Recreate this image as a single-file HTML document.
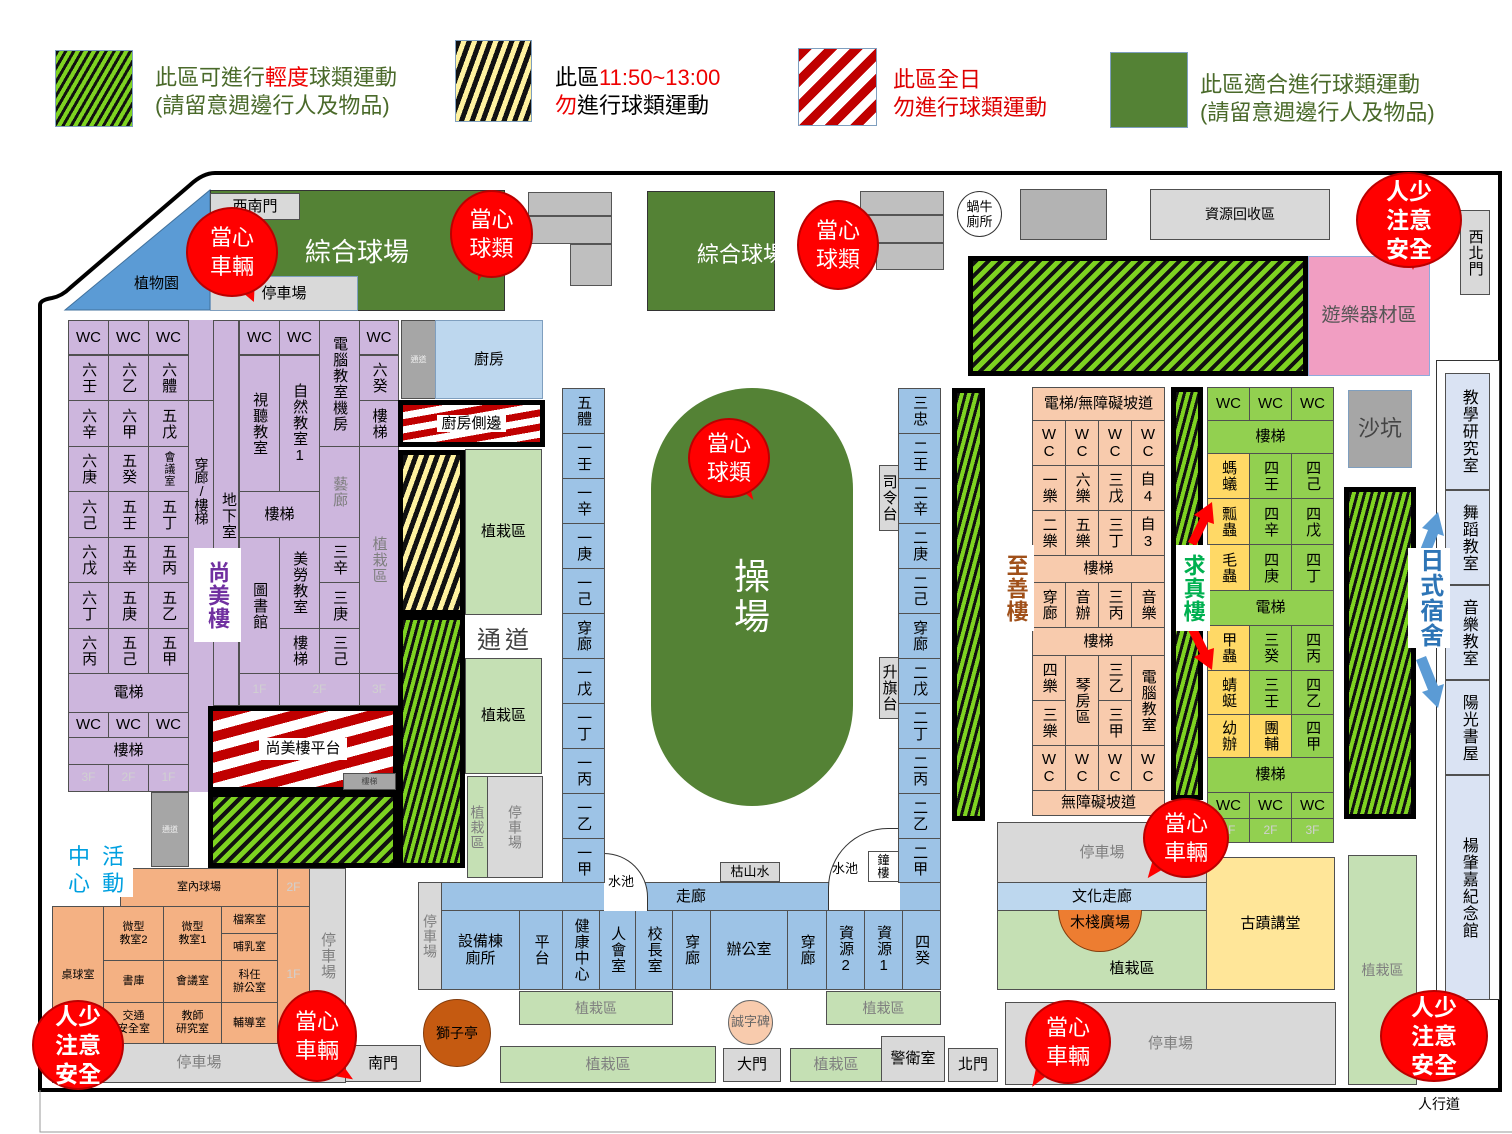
<!DOCTYPE html>
<html><head><meta charset="utf-8">
<style>
*{margin:0;padding:0}
body{width:1512px;height:1134px;position:relative;background:#fff;overflow:hidden;font-family:"Liberation Sans","Noto Sans CJK TC","Noto Sans CJK SC",sans-serif;color:#000}
.b{position:absolute;box-sizing:border-box;border:1px solid #505050;display:flex;align-items:center;justify-content:center;text-align:center;font-size:15px;line-height:1.15}
.v{writing-mode:vertical-rl;text-orientation:upright;letter-spacing:1px}
.p{background:#cdb6dd}
.bl{background:#9dc3e6}
.lb{background:#bdd7ee}
.g{background:#d9d9d9}
.dg{background:#bfbfbf}
.lg{background:#c5e0b4}
.or{background:#f8cbad}
.oo{background:#f4b183}
.gr{background:#92d050}
.ye{background:#ffd966}
.gs{background:repeating-linear-gradient(135deg,#111 0 4px,#7ed321 4px 9px);border:5px solid #000}
.gv{background:repeating-linear-gradient(105deg,#111 0 3px,#7ed321 3px 7px);border:5px solid #000}
.ys{background:repeating-linear-gradient(110deg,#111 0 5px,#fff2a0 5px 10px);border:5px solid #000}
.rs{background:repeating-linear-gradient(165deg,#c00000 0 10px,#fff 10px 20px);border:5px solid #000}
.t{position:absolute;white-space:nowrap}
.bub{position:absolute;border-radius:50%;background:#ff0000;border:2px solid #b00;color:#fff;display:flex;align-items:center;justify-content:center;text-align:center;font-size:22px;line-height:29px;box-sizing:border-box;z-index:5}
.tail{position:absolute;width:0;height:0;z-index:4}
.w{background:#fff;color:#000;padding:0 4px}
.gy{color:#7f7f7f}
.fl{color:#d0d0d0;font-size:12px}
</style></head><body>

<!-- legend -->
<div class="b" style="left:55px;top:50px;width:78px;height:77px;border:1px solid #7f9fbf;background:repeating-linear-gradient(120deg,#111 0 3px,#7ed321 3px 7px)"></div>
<div class="t" style="left:155px;top:64px;font-size:22px;line-height:28px;color:#4a6a2a">此區可進行<span style="color:#e00">輕度</span>球類運動<br>(請留意週邊行人及物品)</div>
<div class="b" style="left:455px;top:40px;width:77px;height:82px;border:1px solid #7f9fbf;background:repeating-linear-gradient(110deg,#111 0 5px,#fff2a0 5px 10px)"></div>
<div class="t" style="left:555px;top:64px;font-size:22px;line-height:28px">此區<span style="color:#e00">11:50~13:00</span><br><span style="color:#e00">勿</span>進行球類運動</div>
<div class="b" style="left:798px;top:48px;width:79px;height:78px;border:1px solid #7f9fbf;background:repeating-linear-gradient(135deg,#c00000 0 9px,#fff 9px 18px)"></div>
<div class="t" style="left:893px;top:66px;font-size:22px;line-height:28px;color:#d00">此區全日<br>勿進行球類運動</div>
<div class="b" style="left:1110px;top:52px;width:78px;height:76px;border:1px solid #7f9fbf;background:#548235"></div>
<div class="t" style="left:1200px;top:71px;font-size:22px;line-height:28px;color:#4a6a2a">此區適合進行球類運動<br>(請留意週邊行人及物品)</div>

<!-- boundary -->
<svg style="position:absolute;left:0;top:0" width="1512" height="1134">
<path d="M40 1090 L40 305 Q40 300 52 298 Q62 296 70 288 L190 185 Q203 173 215 173 L1500 173 L1500 1090 Z" fill="none" stroke="#000" stroke-width="4"/>
<path d="M40 1090 L40 1132 L1512 1132" fill="none" stroke="#999" stroke-width="1"/>
<polygon points="65,310 210,190 210,310" fill="#5b9bd5" stroke="#41719c"/>
</svg>

<!-- top left -->
<div class="t" style="left:134px;top:272px;font-size:15px">植物園</div>
<div class="b" style="left:210px;top:190px;width:295px;height:121px;background:#548235;border-color:#333"></div>
<div class="t" style="left:305px;top:232px;font-size:26px;color:#fff">綜合球場</div>
<div class="b g" style="left:210px;top:193px;width:90px;height:27px">西南門</div>
<div class="b g" style="left:210px;top:276px;width:148px;height:35px;border-color:#7f9fbf">停車場</div>
<div class="b dg" style="left:528px;top:192px;width:84px;height:24px;border-color:#555"></div>
<div class="b dg" style="left:528px;top:216px;width:84px;height:28px;border-color:#555"></div>
<div class="b dg" style="left:570px;top:244px;width:42px;height:42px;border-color:#555"></div>

<div class="b" style="left:647px;top:191px;width:128px;height:120px;background:#548235;border-color:#333"></div>
<div class="t" style="left:697px;top:237px;font-size:22px;color:#fff;z-index:6">綜合球場</div>
<div class="b dg" style="left:860px;top:191px;width:84px;height:24px;border-color:#555"></div>
<div class="b dg" style="left:860px;top:215px;width:84px;height:28px;border-color:#555"></div>
<div class="b dg" style="left:876px;top:243px;width:68px;height:27px;border-color:#555"></div>
<div class="b" style="left:957px;top:191px;width:45px;height:46px;border-radius:50%;background:#fff;border-color:#333;font-size:13px;line-height:15px">蝸牛<br>廁所</div>
<div class="b" style="left:1020px;top:189px;width:87px;height:51px;background:#b3b3b3"></div>
<div class="b g" style="left:1150px;top:189px;width:180px;height:51px;font-size:14px">資源回收區</div>
<div class="b g v" style="left:1460px;top:210px;width:30px;height:85px;font-size:15px">西北門</div>
<div class="b gs" style="left:968px;top:256px;width:340px;height:120px"></div>
<div class="b" style="left:1308px;top:256px;width:122px;height:120px;background:#f19ec2;border-color:#8faadc;color:#555;font-size:19px">遊樂器材區</div>

<!-- right column -->
<div class="b" style="left:1436px;top:360px;width:64px;height:640px;background:#fff;border-color:#333"></div>
<div class="b v" style="left:1445px;top:373px;width:45px;height:117px;background:#dae3f3;font-size:16px">教學研究室</div>
<div class="b v" style="left:1445px;top:490px;width:45px;height:95px;background:#dae3f3;font-size:16px">舞蹈教室</div>
<div class="b v" style="left:1445px;top:585px;width:45px;height:95px;background:#dae3f3;font-size:16px">音樂教室</div>
<div class="b v" style="left:1445px;top:680px;width:45px;height:95px;background:#dae3f3;font-size:16px">陽光書屋</div>
<div class="b v" style="left:1445px;top:775px;width:45px;height:225px;background:#dae3f3;font-size:16px">楊肇嘉紀念館</div>
<div class="b" style="left:1348px;top:390px;width:64px;height:78px;background:#a6a6a6;border-color:#7f9fbf;color:#444;font-size:22px">沙坑</div>
<div class="b gv" style="left:1344px;top:487px;width:72px;height:332px"></div>
<svg style="position:absolute;left:1412px;top:510px" width="40" height="200"><path d="M4 50 L16 20 L10 18 L26 2 L32 26 L26 24 L14 54 Z" fill="#5b9bd5"/><path d="M4 150 L16 180 L10 182 L26 198 L32 174 L26 176 L14 146 Z" fill="#5b9bd5"/></svg>
<div class="b v" style="left:1408px;top:548px;width:42px;height:100px;background:#fff;border:none;color:#2e75b6;font-size:24px;font-weight:bold">日式宿舍</div>

<!-- 尚美樓 -->
<div class="b p" style="left:68px;top:320px;width:331px;height:472px;border:none"></div>
<div class="b p" style="left:68px;top:320px;width:41px;height:35px">WC</div>
<div class="b p" style="left:108px;top:320px;width:41px;height:35px">WC</div>
<div class="b p" style="left:148px;top:320px;width:41px;height:35px">WC</div>
<div class="b p v" style="left:68px;top:355px;width:41px;height:46px">六壬</div>
<div class="b p v" style="left:108px;top:355px;width:41px;height:46px">六乙</div>
<div class="b p v" style="left:148px;top:355px;width:41px;height:46px">六體</div>
<div class="b p v" style="left:68px;top:400px;width:41px;height:47px">六辛</div>
<div class="b p v" style="left:108px;top:400px;width:41px;height:47px">六甲</div>
<div class="b p v" style="left:148px;top:400px;width:41px;height:47px">五戊</div>
<div class="b p v" style="left:68px;top:446px;width:41px;height:46px">六庚</div>
<div class="b p v" style="left:108px;top:446px;width:41px;height:46px">五癸</div>
<div class="b p v" style="left:148px;top:446px;width:41px;height:46px;font-size:11px">會議室</div>
<div class="b p v" style="left:68px;top:491px;width:41px;height:47px">六己</div>
<div class="b p v" style="left:108px;top:491px;width:41px;height:47px">五壬</div>
<div class="b p v" style="left:148px;top:491px;width:41px;height:47px">五丁</div>
<div class="b p v" style="left:68px;top:537px;width:41px;height:46px">六戊</div>
<div class="b p v" style="left:108px;top:537px;width:41px;height:46px">五辛</div>
<div class="b p v" style="left:148px;top:537px;width:41px;height:46px">五丙</div>
<div class="b p v" style="left:68px;top:582px;width:41px;height:47px">六丁</div>
<div class="b p v" style="left:108px;top:582px;width:41px;height:47px">五庚</div>
<div class="b p v" style="left:148px;top:582px;width:41px;height:47px">五乙</div>
<div class="b p v" style="left:68px;top:628px;width:41px;height:46px">六丙</div>
<div class="b p v" style="left:108px;top:628px;width:41px;height:46px">五己</div>
<div class="b p v" style="left:148px;top:628px;width:41px;height:46px">五甲</div>
<div class="b p" style="left:68px;top:673px;width:121px;height:40px">電梯</div>
<div class="b p" style="left:68px;top:712px;width:41px;height:26px">WC</div>
<div class="b p" style="left:108px;top:712px;width:41px;height:26px">WC</div>
<div class="b p" style="left:148px;top:712px;width:41px;height:26px">WC</div>
<div class="b p" style="left:68px;top:737px;width:121px;height:28px">樓梯</div>
<div class="b p fl" style="left:68px;top:764px;width:41px;height:28px">3F</div>
<div class="b p fl" style="left:108px;top:764px;width:41px;height:28px">2F</div>
<div class="b p fl" style="left:148px;top:764px;width:41px;height:28px">1F</div>
<div class="b p v" style="left:189px;top:400px;width:25px;height:180px;border:none;border-top:1px solid #505050;font-size:14px;letter-spacing:-1px">穿廊/樓梯</div>
<div class="b p" style="left:213px;top:320px;width:26px;height:386px"></div>
<div class="t v" style="left:218px;top:492px;font-size:15px;writing-mode:vertical-rl;text-orientation:upright">地下室</div>
<div class="b p" style="left:239px;top:320px;width:41px;height:35px">WC</div>
<div class="b p" style="left:279px;top:320px;width:41px;height:35px">WC</div>
<div class="b p v" style="left:319px;top:320px;width:41px;height:127px">電腦教室機房</div>
<div class="b p" style="left:359px;top:320px;width:40px;height:35px">WC</div>
<div class="b p v" style="left:359px;top:355px;width:40px;height:46px">六癸</div>
<div class="b p v" style="left:359px;top:400px;width:40px;height:47px">樓梯</div>
<div class="b p v" style="left:239px;top:355px;width:41px;height:137px">視聽教室</div>
<div class="b p v" style="left:279px;top:355px;width:41px;height:137px">自然教室1</div>
<div class="b p" style="left:239px;top:491px;width:81px;height:47px">樓梯</div>
<div class="b p v gy" style="left:319px;top:446px;width:41px;height:92px">藝廊</div>
<div class="b p v gy" style="left:359px;top:446px;width:40px;height:228px">植栽區</div>
<div class="b p v" style="left:239px;top:537px;width:41px;height:137px">圖書館</div>
<div class="b p v" style="left:279px;top:537px;width:41px;height:92px">美勞教室</div>
<div class="b p v" style="left:279px;top:628px;width:41px;height:46px">樓梯</div>
<div class="b p v" style="left:319px;top:537px;width:41px;height:46px">三辛</div>
<div class="b p v" style="left:319px;top:582px;width:41px;height:47px">三庚</div>
<div class="b p v" style="left:319px;top:628px;width:41px;height:46px">三己</div>
<div class="b p fl" style="left:239px;top:673px;width:41px;height:33px">1F</div>
<div class="b p fl" style="left:279px;top:673px;width:81px;height:33px">2F</div>
<div class="b p fl" style="left:359px;top:673px;width:40px;height:33px">3F</div>
<div class="b v" style="left:194px;top:548px;width:47px;height:94px;background:#fff;border:none;color:#7030a0;font-size:22px;font-weight:bold">尚美樓</div>

<div class="b" style="left:401px;top:320px;width:35px;height:79px;background:#a6a6a6;font-size:8px;color:#eee">通道</div>
<div class="b" style="left:435px;top:320px;width:108px;height:79px;background:#bdd7ee;border-color:#7f9fbf">廚房</div>
<div class="b rs" style="left:398px;top:400px;width:147px;height:47px;background:repeating-linear-gradient(170deg,#c00000 0 7px,#fff 7px 14px)"><span class="w">廚房側邊</span></div>
<div class="b ys" style="left:398px;top:450px;width:67px;height:165px"></div>
<div class="b gv" style="left:398px;top:615px;width:67px;height:253px"></div>
<div class="b lg" style="left:465px;top:449px;width:77px;height:166px">植栽區</div>
<div class="t" style="left:477px;top:620px;font-size:24px;color:#444;letter-spacing:4px">通道</div>
<div class="b lg" style="left:465px;top:658px;width:77px;height:116px">植栽區</div>
<div class="b lg v gy" style="left:467px;top:776px;width:21px;height:102px;font-size:14px">植栽區</div>
<div class="b g v gy" style="left:487px;top:776px;width:56px;height:102px;font-size:14px">停車場</div>
<div class="b rs" style="left:208px;top:706px;width:190px;height:86px"><span class="w" style="padding:2px 6px">尚美樓平台</span></div>
<div class="b" style="left:343px;top:773px;width:53px;height:17px;background:#a6a6a6;font-size:8px;color:#444">樓梯</div>
<div class="b gs" style="left:208px;top:792px;width:190px;height:76px"></div>
<div class="b" style="left:151px;top:792px;width:38px;height:75px;background:#a6a6a6;font-size:8px;color:#eee">通道</div>

<!-- 中心活動 -->
<div class="b oo" style="left:120px;top:868px;width:158px;height:39px;font-size:11px">室內球場</div>
<div class="b oo fl" style="left:277px;top:868px;width:33px;height:39px">2F</div>
<div class="b oo fl" style="left:277px;top:906px;width:33px;height:138px">1F</div>
<div class="b oo" style="left:52px;top:906px;width:52px;height:138px;font-size:11px">桌球室</div>
<div class="b oo" style="left:103px;top:906px;width:61px;height:55px;font-size:11px">微型<br>教室2</div>
<div class="b oo" style="left:163px;top:906px;width:59px;height:55px;font-size:11px">微型<br>教室1</div>
<div class="b oo" style="left:221px;top:906px;width:57px;height:28px;font-size:11px">檔案室</div>
<div class="b oo" style="left:221px;top:933px;width:57px;height:28px;font-size:11px">哺乳室</div>
<div class="b oo" style="left:103px;top:960px;width:61px;height:43px;font-size:11px">書庫</div>
<div class="b oo" style="left:163px;top:960px;width:59px;height:43px;font-size:11px">會議室</div>
<div class="b oo" style="left:221px;top:960px;width:57px;height:43px;font-size:11px">科任<br>辦公室</div>
<div class="b oo" style="left:103px;top:1002px;width:61px;height:42px;font-size:11px">交通<br>安全室</div>
<div class="b oo" style="left:163px;top:1002px;width:59px;height:42px;font-size:11px">教師<br>研究室</div>
<div class="b oo" style="left:221px;top:1002px;width:57px;height:42px;font-size:11px">輔導室</div>
<div class="t" style="left:62px;top:843px;font-size:22px;line-height:27px;color:#00a0e0;letter-spacing:3px;background:#fff;padding:0 6px">中 活<br>心 動</div>
<div class="b g gy" style="left:52px;top:1043px;width:294px;height:40px">停車場</div>
<div class="b g v gy" style="left:309px;top:868px;width:37px;height:176px">停車場</div>
<div class="b g" style="left:345px;top:1045px;width:76px;height:37px">南門</div>
<div class="b" style="left:423px;top:999px;width:68px;height:68px;border-radius:50%;background:#c55a11;border-color:#843c0c;font-size:14px">獅子亭</div>

<!-- bottom middle -->
<div class="b g v gy" style="left:418px;top:882px;width:24px;height:108px;font-size:14px">停車場</div>
<div class="b bl" style="left:441px;top:882px;width:500px;height:29px">走廊</div>
<div class="b bl" style="left:441px;top:910px;width:79px;height:80px">設備棟<br>廁所</div>
<div class="b bl v" style="left:519px;top:910px;width:44px;height:80px">平台</div>
<div class="b bl v" style="left:562px;top:910px;width:38px;height:80px">健康中心</div>
<div class="b bl v" style="left:599px;top:910px;width:37px;height:80px">人會室</div>
<div class="b bl v" style="left:635px;top:910px;width:38px;height:80px">校長室</div>
<div class="b bl v" style="left:672px;top:910px;width:39px;height:80px">穿廊</div>
<div class="b bl" style="left:710px;top:910px;width:78px;height:80px">辦公室</div>
<div class="b bl v" style="left:787px;top:910px;width:40px;height:80px">穿廊</div>
<div class="b bl v" style="left:826px;top:910px;width:39px;height:80px">資源2</div>
<div class="b bl v" style="left:864px;top:910px;width:39px;height:80px">資源1</div>
<div class="b bl v" style="left:902px;top:910px;width:39px;height:80px">四癸</div>
<div class="b lg gy" style="left:519px;top:991px;width:154px;height:34px;font-size:14px">植栽區</div>
<div class="b lg gy" style="left:826px;top:991px;width:115px;height:34px;font-size:14px">植栽區</div>
<div class="b" style="left:728px;top:1000px;width:45px;height:45px;border-radius:50%;background:#f8cbad;border-color:#666;font-size:13px;color:#666">誠字碑</div>
<div class="b lg gy" style="left:500px;top:1046px;width:216px;height:37px">植栽區</div>
<div class="b g" style="left:723px;top:1048px;width:58px;height:34px">大門</div>
<div class="b lg gy" style="left:790px;top:1048px;width:92px;height:34px">植栽區</div>
<div class="b g" style="left:881px;top:1036px;width:64px;height:46px">警衛室</div>
<div class="b g" style="left:948px;top:1048px;width:50px;height:34px">北門</div>
<div class="b" style="left:604px;top:853px;width:44px;height:58px;border-radius:0 44px 0 0;background:#fff;border-color:#333;border-left:none;border-bottom:none;justify-content:flex-start;font-size:13px;padding-left:4px">水池</div>
<div class="b g" style="left:720px;top:862px;width:60px;height:20px;font-size:13px">枯山水</div>
<div class="b" style="left:828px;top:828px;width:72px;height:82px;border-radius:60px 0 0 0;background:#fff;border-color:#333;border-right:none;border-bottom:none;justify-content:flex-start;font-size:13px;padding-left:3px">水池</div>
<div class="b" style="left:868px;top:851px;width:31px;height:31px;background:#fff;font-size:12px;line-height:13px">鐘<br>樓</div>

<!-- classroom columns -->
<div class="b bl v" style="left:562px;top:388px;width:43px;height:46px">五體</div>
<div class="b bl v" style="left:562px;top:433px;width:43px;height:46px">一壬</div>
<div class="b bl v" style="left:562px;top:478px;width:43px;height:46px">一辛</div>
<div class="b bl v" style="left:562px;top:523px;width:43px;height:46px">一庚</div>
<div class="b bl v" style="left:562px;top:568px;width:43px;height:46px">一己</div>
<div class="b bl v" style="left:562px;top:613px;width:43px;height:46px">穿廊</div>
<div class="b bl v" style="left:562px;top:658px;width:43px;height:46px">一戊</div>
<div class="b bl v" style="left:562px;top:703px;width:43px;height:46px">一丁</div>
<div class="b bl v" style="left:562px;top:748px;width:43px;height:46px">一丙</div>
<div class="b bl v" style="left:562px;top:793px;width:43px;height:46px">一乙</div>
<div class="b bl v" style="left:562px;top:838px;width:43px;height:45px">一甲</div>
<div class="b bl v" style="left:898px;top:388px;width:43px;height:46px">三忠</div>
<div class="b bl v" style="left:898px;top:433px;width:43px;height:46px">二壬</div>
<div class="b bl v" style="left:898px;top:478px;width:43px;height:46px">二辛</div>
<div class="b bl v" style="left:898px;top:523px;width:43px;height:46px">二庚</div>
<div class="b bl v" style="left:898px;top:568px;width:43px;height:46px">二己</div>
<div class="b bl v" style="left:898px;top:613px;width:43px;height:46px">穿廊</div>
<div class="b bl v" style="left:898px;top:658px;width:43px;height:46px">二戊</div>
<div class="b bl v" style="left:898px;top:703px;width:43px;height:46px">二丁</div>
<div class="b bl v" style="left:898px;top:748px;width:43px;height:46px">二丙</div>
<div class="b bl v" style="left:898px;top:793px;width:43px;height:46px">二乙</div>
<div class="b bl v" style="left:898px;top:838px;width:43px;height:45px">二甲</div>
<div class="b g v" style="left:879px;top:465px;width:20px;height:66px">司令台</div>
<div class="b g v" style="left:879px;top:657px;width:20px;height:62px">升旗台</div>
<div class="b" style="left:651px;top:388px;width:202px;height:418px;border-radius:101px;background:#548235;border:none;color:#fff;font-size:36px;line-height:40px">操<br>場</div>

<!-- 至善樓 -->
<div class="b or" style="left:1032px;top:387px;width:133px;height:34px">電梯/無障礙坡道</div>
<div class="b or" style="left:1032px;top:420px;width:34px;height:46px">W<br>C</div>
<div class="b or" style="left:1065px;top:420px;width:34px;height:46px">W<br>C</div>
<div class="b or" style="left:1098px;top:420px;width:34px;height:46px">W<br>C</div>
<div class="b or" style="left:1131px;top:420px;width:34px;height:46px">W<br>C</div>
<div class="b or v" style="left:1032px;top:465px;width:34px;height:46px">一樂</div>
<div class="b or v" style="left:1065px;top:465px;width:34px;height:46px">六樂</div>
<div class="b or v" style="left:1098px;top:465px;width:34px;height:46px">三戊</div>
<div class="b or" style="left:1131px;top:465px;width:34px;height:46px">自<br>4</div>
<div class="b or v" style="left:1032px;top:510px;width:34px;height:46px">二樂</div>
<div class="b or v" style="left:1065px;top:510px;width:34px;height:46px">五樂</div>
<div class="b or v" style="left:1098px;top:510px;width:34px;height:46px">三丁</div>
<div class="b or" style="left:1131px;top:510px;width:34px;height:46px">自<br>3</div>
<div class="b or" style="left:1032px;top:555px;width:133px;height:28px">樓梯</div>
<div class="b or v" style="left:1032px;top:582px;width:34px;height:46px">穿廊</div>
<div class="b or v" style="left:1065px;top:582px;width:34px;height:46px">音辦</div>
<div class="b or v" style="left:1098px;top:582px;width:34px;height:46px">三丙</div>
<div class="b or v" style="left:1131px;top:582px;width:34px;height:46px">音樂</div>
<div class="b or" style="left:1032px;top:627px;width:133px;height:29px">樓梯</div>
<div class="b or v" style="left:1032px;top:655px;width:34px;height:46px">四樂</div>
<div class="b or v" style="left:1032px;top:700px;width:34px;height:46px">三樂</div>
<div class="b or v" style="left:1065px;top:655px;width:34px;height:91px">琴房區</div>
<div class="b or v" style="left:1098px;top:655px;width:34px;height:46px">三乙</div>
<div class="b or v" style="left:1098px;top:700px;width:34px;height:46px">三甲</div>
<div class="b or v" style="left:1131px;top:655px;width:34px;height:91px">電腦教室</div>
<div class="b or" style="left:1032px;top:745px;width:34px;height:46px">W<br>C</div>
<div class="b or" style="left:1065px;top:745px;width:34px;height:46px">W<br>C</div>
<div class="b or" style="left:1098px;top:745px;width:34px;height:46px">W<br>C</div>
<div class="b or" style="left:1131px;top:745px;width:34px;height:46px">W<br>C</div>
<div class="b or" style="left:1032px;top:790px;width:133px;height:26px">無障礙坡道</div>
<div class="b v" style="left:998px;top:545px;width:36px;height:86px;background:#fff;border:none;color:#a0501a;font-size:22px;font-weight:bold">至善樓</div>
<div class="b gv" style="left:952px;top:388px;width:33px;height:433px"></div>
<div class="b gv" style="left:1171px;top:387px;width:32px;height:413px"></div>

<!-- 求真樓 -->
<div class="b gr" style="left:1207px;top:387px;width:43px;height:34px">WC</div>
<div class="b gr" style="left:1249px;top:387px;width:43px;height:34px">WC</div>
<div class="b gr" style="left:1291px;top:387px;width:43px;height:34px">WC</div>
<div class="b gr" style="left:1207px;top:420px;width:127px;height:34px">樓梯</div>
<div class="b ye v" style="left:1207px;top:453px;width:43px;height:46px">螞蟻</div>
<div class="b gr v" style="left:1249px;top:453px;width:43px;height:46px">四壬</div>
<div class="b gr v" style="left:1291px;top:453px;width:43px;height:46px">四己</div>
<div class="b ye v" style="left:1207px;top:498px;width:43px;height:47px">瓢蟲</div>
<div class="b gr v" style="left:1249px;top:498px;width:43px;height:47px">四辛</div>
<div class="b gr v" style="left:1291px;top:498px;width:43px;height:47px">四戊</div>
<div class="b ye v" style="left:1207px;top:544px;width:43px;height:47px">毛蟲</div>
<div class="b gr v" style="left:1249px;top:544px;width:43px;height:47px">四庚</div>
<div class="b gr v" style="left:1291px;top:544px;width:43px;height:47px">四丁</div>
<div class="b gr" style="left:1207px;top:590px;width:127px;height:36px">電梯</div>
<div class="b ye v" style="left:1207px;top:625px;width:43px;height:46px">甲蟲</div>
<div class="b gr v" style="left:1249px;top:625px;width:43px;height:46px">三癸</div>
<div class="b gr v" style="left:1291px;top:625px;width:43px;height:46px">四丙</div>
<div class="b ye v" style="left:1207px;top:670px;width:43px;height:45px">蜻蜓</div>
<div class="b gr v" style="left:1249px;top:670px;width:43px;height:45px">三壬</div>
<div class="b gr v" style="left:1291px;top:670px;width:43px;height:45px">四乙</div>
<div class="b ye v" style="left:1207px;top:714px;width:43px;height:44px">幼辦</div>
<div class="b ye v" style="left:1249px;top:714px;width:43px;height:44px">團輔</div>
<div class="b gr v" style="left:1291px;top:714px;width:43px;height:44px">四甲</div>
<div class="b gr" style="left:1207px;top:757px;width:127px;height:36px">樓梯</div>
<div class="b gr" style="left:1207px;top:792px;width:43px;height:27px">WC</div>
<div class="b gr" style="left:1249px;top:792px;width:43px;height:27px">WC</div>
<div class="b gr" style="left:1291px;top:792px;width:43px;height:27px">WC</div>
<div class="b gr fl" style="left:1207px;top:818px;width:43px;height:25px">1F</div>
<div class="b gr fl" style="left:1249px;top:818px;width:43px;height:25px">2F</div>
<div class="b gr fl" style="left:1291px;top:818px;width:43px;height:25px">3F</div>
<svg style="position:absolute;left:1180px;top:500px" width="40" height="175"><path d="M8 42 L20 18 L14 15 L32 2 L34 24 L28 22 L16 46 Z" fill="#f00"/><path d="M8 130 L20 154 L14 157 L32 170 L34 148 L28 150 L16 126 Z" fill="#f00"/></svg>
<div class="b v" style="left:1176px;top:545px;width:34px;height:86px;background:#fff;border:none;color:#00b050;font-size:22px;font-weight:bold">求真樓</div>

<!-- bottom right -->
<div class="b g gy" style="left:997px;top:822px;width:210px;height:61px">停車場</div>
<div class="b lb" style="left:997px;top:882px;width:210px;height:29px">文化走廊</div>
<div class="b lg" style="left:997px;top:910px;width:210px;height:80px;overflow:hidden;align-items:flex-end;padding-bottom:12px;padding-left:60px">植栽區</div>
<div class="b" style="left:1058px;top:910px;width:84px;height:42px;border-radius:0 0 42px 42px;background:#ed7d31;border-color:#843c0c;border-top:none;align-items:flex-start;padding-top:4px">木棧廣場</div>
<div class="b" style="left:1206px;top:857px;width:129px;height:133px;background:#ffe699">古蹟講堂</div>
<div class="b lg gy" style="left:1348px;top:855px;width:69px;height:230px;font-size:14px">植栽區</div>
<div class="b g gy" style="left:1005px;top:1002px;width:331px;height:83px">停車場</div>
<div class="t" style="left:1418px;top:1094px;font-size:14px">人行道</div>

<!-- bubbles -->
<div class="tail" style="left:240px;top:280px;border-left:8px solid transparent;border-right:14px solid transparent;border-top:22px solid #f00;transform:rotate(-30deg)"></div>
<div class="bub" style="left:186px;top:207px;width:92px;height:90px">當心<br>車輛</div>
<div class="tail" style="left:475px;top:258px;border-left:6px solid transparent;border-right:10px solid transparent;border-top:24px solid #f00;transform:rotate(15deg)"></div>
<div class="bub" style="left:450px;top:190px;width:83px;height:88px">當心<br>球類</div>
<div class="tail" style="left:812px;top:262px;border-left:6px solid transparent;border-right:10px solid transparent;border-top:22px solid #f00;transform:rotate(20deg)"></div>
<div class="bub" style="left:797px;top:200px;width:82px;height:90px">當心<br>球類</div>
<div class="tail" style="left:740px;top:480px;border-left:8px solid transparent;border-right:6px solid transparent;border-top:22px solid #f00;transform:rotate(-30deg)"></div>
<div class="bub" style="left:688px;top:418px;width:82px;height:80px">當心<br>球類</div>
<div class="tail" style="left:1405px;top:250px;border-left:8px solid transparent;border-right:8px solid transparent;border-top:20px solid #f00"></div>
<div class="bub" style="left:1356px;top:172px;width:106px;height:96px;font-size:23px;font-weight:bold">人少<br>注意<br>安全</div>
<div class="tail" style="left:1145px;top:858px;border-left:10px solid transparent;border-right:8px solid transparent;border-top:22px solid #f00;transform:rotate(40deg)"></div>
<div class="bub" style="left:1143px;top:798px;width:86px;height:80px">當心<br>車輛</div>
<div class="tail" style="left:1030px;top:1065px;border-left:8px solid transparent;border-right:10px solid transparent;border-top:24px solid #f00;transform:rotate(30deg)"></div>
<div class="bub" style="left:1025px;top:1000px;width:86px;height:84px">當心<br>車輛</div>
<div class="bub" style="left:1380px;top:990px;width:108px;height:92px;font-size:23px;font-weight:bold">人少<br>注意<br>安全</div>
<div class="bub" style="left:32px;top:1000px;width:92px;height:90px;font-size:23px;font-weight:bold">人少<br>注意<br>安全</div>
<div class="tail" style="left:335px;top:1062px;border-left:8px solid transparent;border-right:10px solid transparent;border-top:22px solid #f00;transform:rotate(-60deg)"></div>
<div class="bub" style="left:277px;top:990px;width:80px;height:92px">當心<br>車輛</div>

</body></html>
